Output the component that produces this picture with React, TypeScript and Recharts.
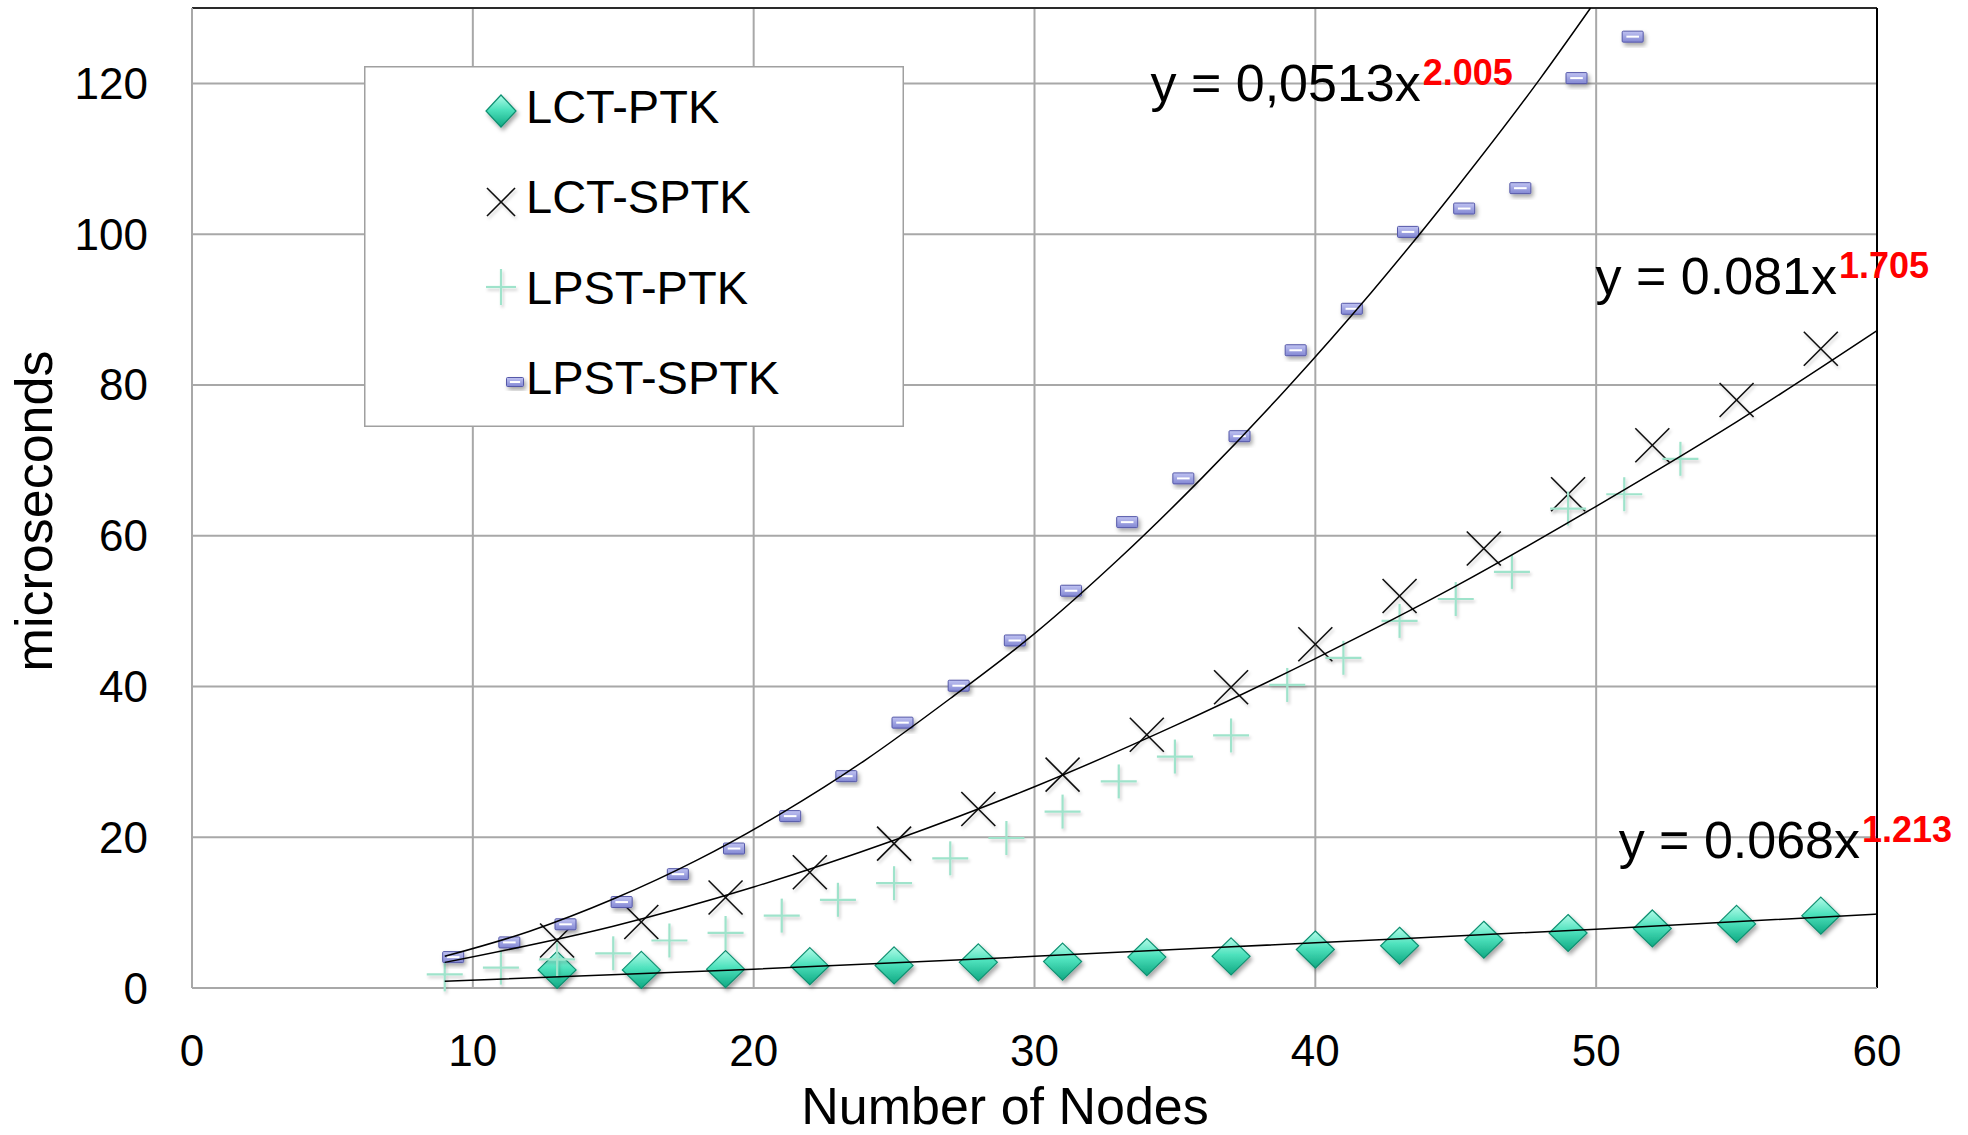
import { ScatterChart, Scatter, XAxis, YAxis, CartesianGrid, Legend, ReferenceLine, ReferenceDot } from 'recharts'

const FONT = '"Liberation Sans", Arial, Helvetica, sans-serif'

// measured series (x = number of nodes, y = microseconds)
const lctPtkX = [13, 16, 19, 22, 25, 28, 31, 34, 37, 40, 43, 46, 49, 52, 55, 58]
const lctPtkY = [2.4, 2.4, 2.5, 2.9, 3.0, 3.4, 3.5, 4.1, 4.2, 5.1, 5.6, 6.4, 7.3, 7.9, 8.5, 9.6]

const lctSptkX = [13, 16, 19, 22, 25, 28, 31, 34, 37, 40, 43, 46, 49, 52, 55, 58]
const lctSptkY = [6.3, 8.75, 12.0, 15.35, 19.15, 23.75, 28.3, 33.6, 39.9, 45.6, 52.0, 58.3, 65.5, 72.0, 78.0, 84.8]

const lpstPtkX = [9, 11, 13, 15, 17, 19, 21, 23, 25, 27, 29, 31, 33, 35, 37, 39, 41, 43, 45, 47, 49, 51, 53]
const lpstPtkY = [1.8, 2.7, 3.8, 4.6, 6.3, 7.3, 9.6, 11.7, 13.9, 17.2, 19.9, 23.4, 27.4, 30.7, 33.5, 40.2, 43.8, 48.7, 51.6, 55.2, 63.6, 65.5, 70.2]

const lpstSptkX = [9.3, 11.3, 13.3, 15.3, 17.3, 19.3, 21.3, 23.3, 25.3, 27.3, 29.3, 31.3, 33.3, 35.3, 37.3, 39.3, 41.3, 43.3, 45.3, 47.3, 49.3, 51.3]
const lpstSptkY = [4.1, 6.05, 8.45, 11.4, 15.1, 18.5, 22.8, 28.1, 35.2, 40.1, 46.1, 52.7, 61.8, 67.6, 73.2, 84.6, 90.1, 100.3, 103.4, 106.1, 120.7, 126.2]

// trend lines
const trendSptkX = [9, 12, 15, 18, 21, 24, 27, 30, 33, 36, 39, 42, 45, 48, 49.8]
const trendSptkY = [4.2, 7.5, 11.8, 17.0, 23.2, 30.3, 38.4, 47.0, 56.9, 67.8, 79.6, 92.3, 106, 120.6, 130]
const trendLctSptkX = [9, 15, 20, 25, 30, 35, 40, 45, 50, 55, 60]
const trendLctSptkY = [3.4, 8.2, 13.4, 19.6, 26.7, 34.8, 43.7, 53.3, 63.9, 75.1, 87.2]
const trendLctPtkX = [9, 20, 30, 40, 50, 60]
const trendLctPtkY = [0.9, 2.5, 4.2, 6.0, 7.8, 9.8]

const seriesNames = ['LCT-PTK', 'LCT-SPTK', 'LPST-PTK', 'LPST-SPTK']
const xTicks = [0, 10, 20, 30, 40, 50, 60]
const yTicks = [0, 20, 40, 60, 80, 100, 120]

const equations = [
  { x: 34.13, y: 117.7, main: 'y = 0,0513x', sup: '2.005' },
  { x: 49.98, y: 92.1, main: 'y = 0.081x', sup: '1.705' },
  { x: 50.8, y: 17.2, main: 'y = 0.068x', sup: '1.213' },
]

const zip = (xs: number[], ys: number[]) => xs.map((x, i) => ({ x, y: ys[i] }))

const Diamond = ({ cx, cy, w = 38, h = 37 }: any) => (
  <g filter="url(#mkShadow)">
    <polygon
      points={`${cx},${cy - h / 2} ${cx + w / 2},${cy} ${cx},${cy + h / 2} ${cx - w / 2},${cy}`}
      fill="url(#diamondGrad)"
      stroke="#0e8f70"
      strokeWidth={1.2}
    />
  </g>
)

const Cross = ({ cx, cy, s = 17 }: any) => (
  <g stroke="#111" strokeWidth={1.6} filter="url(#lnShadow)">
    <line x1={cx - s} y1={cy - s} x2={cx + s} y2={cy + s} />
    <line x1={cx - s} y1={cy + s} x2={cx + s} y2={cy - s} />
  </g>
)

const Plus = ({ cx, cy, w = 18, h = 17 }: any) => (
  <g stroke="#9fe3cb" strokeWidth={2.2} filter="url(#lnShadow)">
    <line x1={cx - w} y1={cy} x2={cx + w} y2={cy} />
    <line x1={cx} y1={cy - h} x2={cx} y2={cy + h} />
  </g>
)

const Dash = ({ cx, cy, w = 21, h = 11 }: any) => (
  <g filter="url(#mkShadow)">
    <rect x={cx - w / 2} y={cy - h / 2} width={w} height={h} rx={1} fill="url(#rectGrad)" stroke="#5558a8" strokeWidth={1} />
    <rect x={cx - w * 0.3} y={cy - 1} width={w * 0.6} height={2} fill="#fff" />
  </g>
)

const XTick = ({ x, y, payload }: any) => (
  <text x={x} y={y + 78} textAnchor="middle" fontFamily={FONT} fontSize={44} fill="#000">
    {payload.value}
  </text>
)

const YTick = ({ x, y, payload }: any) => (
  <text x={x - 44} y={y + 15.5} textAnchor="end" fontFamily={FONT} fontSize={44} fill="#000">
    {payload.value}
  </text>
)

const XTitle = (p: any) => {
  const vb = p.viewBox || { x: 192, y: 988, width: 1685, height: 147 }
  return (
    <text x={vb.x + vb.width / 2 - 29.5} y={vb.y + 136} textAnchor="middle" fontFamily={FONT} fontSize={52} fill="#000">
      Number of Nodes
    </text>
  )
}

const YTitle = (p: any) => {
  const vb = p.viewBox || { x: 0, y: 8, width: 192, height: 980 }
  const cx = vb.x + 52
  const cy = vb.y + vb.height / 2 + 13
  return (
    <text x={cx} y={cy} transform={`rotate(-90, ${cx}, ${cy})`} textAnchor="middle" fontFamily={FONT} fontSize={52} fill="#000">
      microseconds
    </text>
  )
}

const Equation = ({ cx, cy, main, sup }: any) => (
  <text x={cx} y={cy} fontFamily={FONT} fontSize={52} fill="#000">
    {main}
    <tspan dx={2} dy={-16} fontSize={36} fontWeight="bold" fill="#ff0000">
      {sup}
    </tspan>
  </text>
)

const legendIcons = [
  (y: number) => <Diamond cx={137} cy={y} w={30} h={32} />,
  (y: number) => <Cross cx={137} cy={y} s={14} />,
  (y: number) => <Plus cx={137} cy={y} w={15} h={18} />,
  (y: number) => <Dash cx={151} cy={y} w={17} h={9} />,
]
const legendIconY = [45, 136, 221, 316]
const legendTextY = [57, 147, 238, 328]

const LegendBox = () => (
  <svg width={540} height={361} style={{ display: 'block' }}>
    <rect x={0.75} y={0.75} width={538.5} height={359.5} fill="#fff" stroke="#a0a0a0" strokeWidth={1.5} />
    {seriesNames.map((name, i) => (
      <g key={name}>
        {legendIcons[i](legendIconY[i])}
        <text x={162} y={legendTextY[i]} fontFamily={FONT} fontSize={47} fill="#000">
          {name}
        </text>
      </g>
    ))}
  </svg>
)

export default function App() {
  return (
    <div style={{ position: 'absolute', left: 0, top: 0, width: 1968, height: 1135, background: '#fff' }}>
      <svg width={0} height={0} style={{ position: 'absolute' }}>
        <defs>
          <linearGradient id="diamondGrad" x1="0" y1="0" x2="0" y2="1">
            <stop offset="0%" stopColor="#b2fbe8" />
            <stop offset="45%" stopColor="#4ee2bd" />
            <stop offset="100%" stopColor="#10a983" />
          </linearGradient>
          <linearGradient id="rectGrad" x1="0" y1="0" x2="0" y2="1">
            <stop offset="0%" stopColor="#c0c3f2" />
            <stop offset="100%" stopColor="#8287d3" />
          </linearGradient>
          <filter id="mkShadow" x="-50%" y="-50%" width="200%" height="200%">
            <feDropShadow dx="2" dy="3" stdDeviation="2" floodColor="#000" floodOpacity="0.35" />
          </filter>
          <filter id="lnShadow" x="-50%" y="-50%" width="200%" height="200%">
            <feDropShadow dx="1.5" dy="2.5" stdDeviation="1.5" floodColor="#000" floodOpacity="0.2" />
          </filter>
        </defs>
      </svg>
      <ScatterChart width={1968} height={1135} margin={{ top: 8, right: 91, bottom: 0, left: 0 }}>
        <CartesianGrid stroke="#a8a8a8" strokeWidth={2} />
        <XAxis
          type="number"
          dataKey="x"
          domain={[0, 60]}
          ticks={xTicks}
          interval={0}
          height={147}
          tickSize={0}
          tickMargin={0}
          tickLine={false}
          axisLine={{ stroke: '#a8a8a8', strokeWidth: 2 }}
          tick={<XTick />}
          label={{ value: 'Number of Nodes', content: XTitle }}
        />
        <YAxis
          type="number"
          dataKey="y"
          domain={[0, 130]}
          ticks={yTicks}
          interval={0}
          width={192}
          tickSize={0}
          tickMargin={0}
          tickLine={false}
          axisLine={{ stroke: '#a8a8a8', strokeWidth: 2 }}
          tick={<YTick />}
          label={{ value: 'microseconds', content: YTitle }}
        />
        <ReferenceLine y={130} stroke="#000" strokeWidth={1.5} />
        <ReferenceLine x={60} stroke="#000" strokeWidth={2} />
        <Scatter name={seriesNames[0]} data={zip(lctPtkX, lctPtkY)} shape={(p: any) => <Diamond cx={p.cx} cy={p.cy} />} isAnimationActive={false} />
        <Scatter name={seriesNames[1]} data={zip(lctSptkX, lctSptkY)} shape={(p: any) => <Cross cx={p.cx} cy={p.cy} />} isAnimationActive={false} />
        <Scatter name={seriesNames[2]} data={zip(lpstPtkX, lpstPtkY)} shape={(p: any) => <Plus cx={p.cx} cy={p.cy} />} isAnimationActive={false} />
        <Scatter name={seriesNames[3]} data={zip(lpstSptkX, lpstSptkY)} shape={(p: any) => <Dash cx={p.cx} cy={p.cy} />} isAnimationActive={false} />
        <Scatter data={zip(trendLctPtkX, trendLctPtkY)} line={{ stroke: '#000', strokeWidth: 1.5 }} lineJointType="monotoneX" shape={() => <g />} legendType="none" isAnimationActive={false} />
        <Scatter data={zip(trendLctSptkX, trendLctSptkY)} line={{ stroke: '#000', strokeWidth: 1.5 }} lineJointType="monotoneX" shape={() => <g />} legendType="none" isAnimationActive={false} />
        <Scatter data={zip(trendSptkX, trendSptkY)} line={{ stroke: '#000', strokeWidth: 1.5 }} lineJointType="monotoneX" shape={() => <g />} legendType="none" isAnimationActive={false} />
        {equations.map((e) => (
          <ReferenceDot
            key={e.sup}
            x={e.x}
            y={e.y}
            r={0}
            shape={(p: any) => <Equation cx={p.cx} cy={p.cy} main={e.main} sup={e.sup} />}
          />
        ))}
        <Legend
          layout="vertical"
          align="center"
          verticalAlign="middle"
          content={() => <LegendBox />}
          wrapperStyle={{ position: 'absolute', left: 364, top: 66, width: 540, height: 361 }}
        />
      </ScatterChart>
    </div>
  )
}
